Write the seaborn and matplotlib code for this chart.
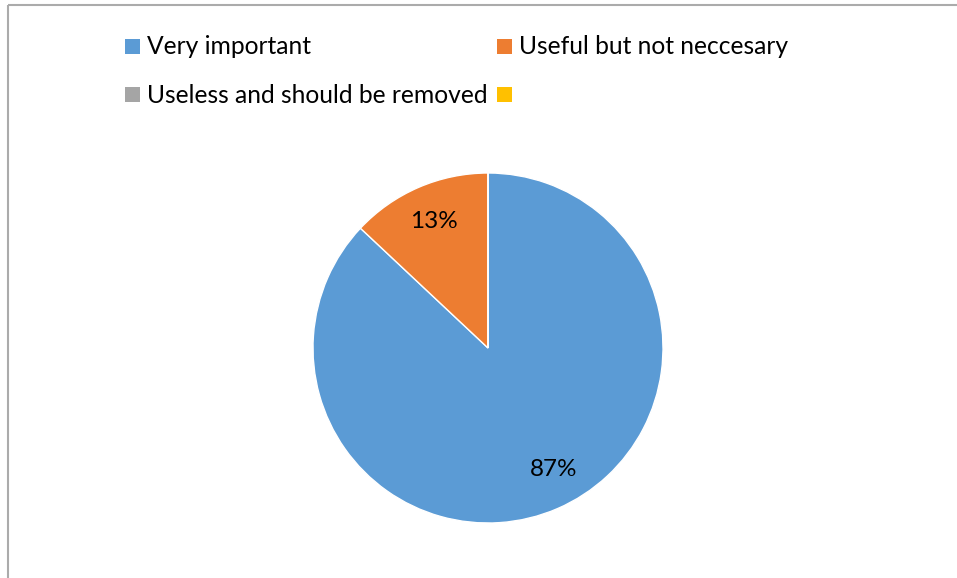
import matplotlib
matplotlib.use("Agg")
import matplotlib.pyplot as plt
from matplotlib.patches import Rectangle
from matplotlib.lines import Line2D
import seaborn as sns

# Survey answers and their shares
categories = ["Very important", "Useful but not neccesary",
              "Useless and should be removed", ""]
shares = [87, 13, 0, 0]
colors = ["#5B9BD5", "#ED7D31", "#A5A5A5", "#FFC000"]

sns.set_theme(style="white")
plt.rcParams["font.family"] = ["Lato", "DejaVu Sans"]

W, H = 957, 578
fig = plt.figure(figsize=(W / 100, H / 100), dpi=100)
fig.patch.set_facecolor("white")

def fx(px):
    return px / W

def fy(py):
    return 1 - py / H

# Pie axes: center (488, 348), radius 175 px
cx, cy, r = 488, 348, 175
ax = fig.add_axes([fx(cx - r), fy(cy + r), 2 * r / W, 2 * r / H])
palette = sns.color_palette(colors)

def pct(v):
    return f"{v:.0f}%" if v > 0.5 else ""

wedges, texts, autotexts = ax.pie(
    shares, colors=palette, startangle=90, counterclock=False,
    autopct=pct, pctdistance=0.785,
    wedgeprops=dict(edgecolor="white", linewidth=1.0),
    textprops=dict(fontsize=17.5, color="#000000"),
)
# nudge the large-slice label slightly outward/right
x0, y0 = autotexts[0].get_position()
autotexts[0].set_position((x0 + 0.065, y0 + 0.025))
ax.set_xlim(-1, 1)
ax.set_ylim(-1, 1)
ax.set_aspect("auto")
ax.axis("off")

# Legend laid out in a 2x2 grid
rows_y = [46, 94.5]
cols_x = [125, 497]
sq = 15
for i, (lab, col) in enumerate(zip(categories, colors)):
    row, colm = divmod(i, 2)
    x0 = cols_x[colm]
    y0 = rows_y[row]
    fig.add_artist(Rectangle((fx(x0), fy(y0 + sq / 2)), sq / W, sq / H,
                             transform=fig.transFigure, facecolor=col,
                             edgecolor="none"))
    if lab:
        fig.text(fx(x0 + 22), fy(y0 + 1), lab, fontsize=17.7, color="#000000",
                 ha="left", va="center")

# Chart area border (top and left edges)
border = "#ABABAB"
fig.add_artist(Line2D([fx(8), fx(W + 5)], [fy(5), fy(5)], transform=fig.transFigure,
                      color=border, linewidth=1.5, solid_capstyle="butt"))
fig.add_artist(Line2D([fx(8), fx(8)], [fy(5), fy(H + 5)], transform=fig.transFigure,
                      color=border, linewidth=1.5, solid_capstyle="butt"))

fig.savefig("out.png", dpi=100, facecolor="white")
